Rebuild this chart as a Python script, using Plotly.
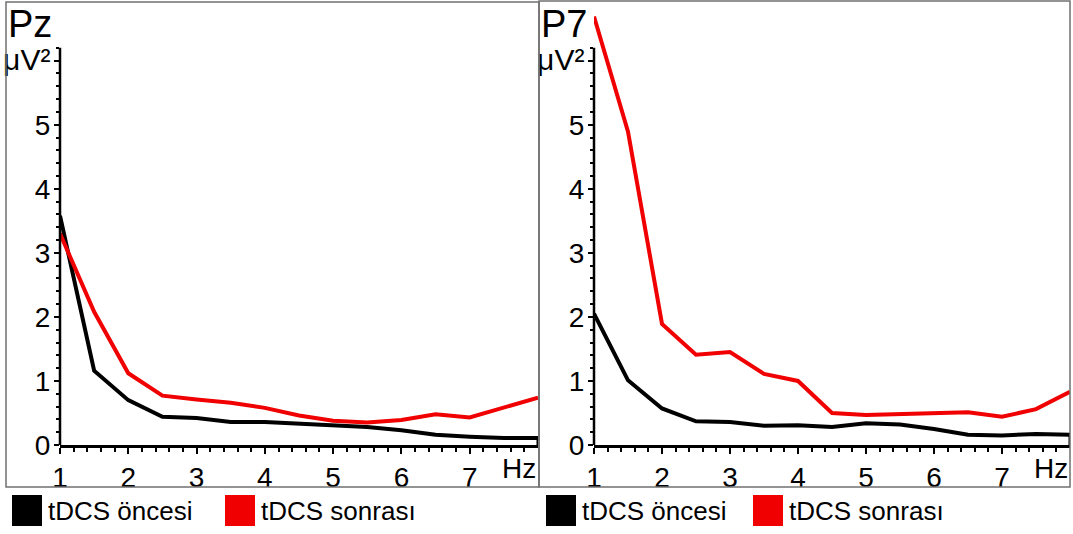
import plotly.graph_objects as go

# ---- data ----
freq = [1, 1.5, 2, 2.5, 3, 3.5, 4, 4.5, 5, 5.5, 6, 6.5, 7, 7.5, 8]
pz_once = [3.58, 1.16, 0.70, 0.44, 0.42, 0.36, 0.36, 0.33, 0.31, 0.28, 0.23, 0.16, 0.13, 0.11, 0.11]
pz_sonra = [3.30, 2.08, 1.12, 0.77, 0.71, 0.66, 0.58, 0.46, 0.38, 0.35, 0.39, 0.48, 0.43, 0.58, 0.74]
p7_once = [2.05, 1.01, 0.57, 0.37, 0.36, 0.30, 0.31, 0.28, 0.34, 0.32, 0.25, 0.16, 0.15, 0.17, 0.16]
p7_sonra = [6.69, 4.89, 1.89, 1.41, 1.45, 1.11, 1.00, 0.50, 0.47, 0.48, 0.49, 0.51, 0.44, 0.56, 0.83]
panels = ["Pz", "P7"]
series_names = ["tDCS öncesi", "tDCS sonrası"]
x_ticks = [1, 2, 3, 4, 5, 6, 7]
y_ticks = [0, 1, 2, 3, 4, 5, 6]
y_ticktext = ["0", "1", "2", "3", "4", "5", "<span style='font-size:30px'>μV²</span>"]
x_unit = "Hz"

BLACK = "#000000"
RED = "#f00000"
FONT = "Liberation Sans, Arial, sans-serif"
W, H = 1073, 534
Y_RANGE = [0, 6.9]
Y_AXIS_TOP = 6.2
X_RANGE = [1, 8]

ydom = [(534 - 445) / H, (534 - 3) / H]
xdoms = [[60 / W, 538 / W], [594 / W, 1070 / W]]

fig = go.Figure()
data_sets = [(pz_once, pz_sonra), (p7_once, p7_sonra)]
for i, (once, sonra) in enumerate(data_sets):
    xa = "x" if i == 0 else "x2"
    ya = "y" if i == 0 else "y2"
    fig.add_trace(go.Scatter(x=freq, y=once, mode="lines", name=series_names[0],
                             line=dict(color=BLACK, width=4), xaxis=xa, yaxis=ya,
                             showlegend=False))
    fig.add_trace(go.Scatter(x=freq, y=sonra, mode="lines", name=series_names[1],
                             line=dict(color=RED, width=4), xaxis=xa, yaxis=ya,
                             showlegend=False))

minor_x = [round(1 + 0.2 * k, 2) for k in range(1, 36) if abs((1 + 0.2 * k) - round(1 + 0.2 * k)) > 1e-6]
minor_y = [round(0.2 * k, 2) for k in range(1, 32) if abs(0.2 * k - round(0.2 * k)) > 1e-6]

shapes = []
annotations = []
for i in range(2):
    sfx = "" if i == 0 else "2"
    xd = xdoms[i]
    fig.update_layout(**{
        "xaxis" + sfx: dict(domain=xd, range=X_RANGE, anchor="y" + sfx, automargin=False,
                            showline=True, linecolor=BLACK, linewidth=2.5,
                            ticks="outside", ticklen=6, tickwidth=2, tickcolor=BLACK,
                            tickvals=x_ticks, ticktext=[str(v) for v in x_ticks],
                            tickfont=dict(size=28, color=BLACK, family=FONT),
                            minor=dict(tickvals=minor_x, ticks="outside", ticklen=4,
                                       tickwidth=1.5, tickcolor=BLACK),
                            showgrid=False, zeroline=False, fixedrange=True),
        "yaxis" + sfx: dict(domain=ydom, range=Y_RANGE, anchor="x" + sfx, automargin=False,
                            showline=False,
                            ticks="outside", ticklen=5, tickwidth=2, tickcolor=BLACK,
                            tickvals=y_ticks, ticktext=y_ticktext, ticklabelstandoff=-2,
                            tickfont=dict(size=28, color=BLACK, family=FONT),
                            minor=dict(tickvals=minor_y, ticks="outside", ticklen=3,
                                       tickwidth=1.5, tickcolor=BLACK),
                            showgrid=False, zeroline=False, fixedrange=True),
    })
    # y-axis line (ends at 6.2 like the original)
    y_top_paper = ydom[0] + (Y_AXIS_TOP - Y_RANGE[0]) / (Y_RANGE[1] - Y_RANGE[0]) * (ydom[1] - ydom[0])
    shapes.append(dict(type="line", xref="paper", yref="paper", x0=xd[0], x1=xd[0],
                       y0=ydom[0], y1=y_top_paper, line=dict(color=BLACK, width=2.5)))
    # closing segment at end of black curve
    once = data_sets[i][0]
    shapes.append(dict(type="line", xref="x" + sfx, yref="y" + sfx, x0=freq[-1], x1=freq[-1],
                       y0=0, y1=once[-1], line=dict(color=BLACK, width=3)))
    # panel title
    annotations.append(dict(text=panels[i], xref="paper", yref="paper",
                            x=(6 if i == 0 else 539) / W, y=(534 - 1) / H,
                            xanchor="left", yanchor="top", showarrow=False,
                            font=dict(size=38, color=BLACK, family=FONT)))
    # Hz unit label
    annotations.append(dict(text=x_unit, xref="x" + sfx, yref="paper", x=X_RANGE[1],
                            y=(534 - 468) / H, xanchor="right", yanchor="middle",
                            showarrow=False, font=dict(size=28, color=BLACK, family=FONT)))

# frames
shapes.append(dict(type="rect", xref="paper", yref="paper", x0=6 / W, x1=539 / W,
                   y0=(534 - 487) / H, y1=(534 - 2) / H, line=dict(color="#707070", width=1.5)))
shapes.append(dict(type="rect", xref="paper", yref="paper", x0=539 / W, x1=1070 / W,
                   y0=(534 - 487) / H, y1=(534 - 1) / H, line=dict(color="#707070", width=1.5)))

# legends (one per panel)
leg_x = [[12, 225], [546, 753]]
colors = [BLACK, RED]
for i in range(2):
    for j in range(2):
        x0 = leg_x[i][j]
        shapes.append(dict(type="rect", xref="paper", yref="paper", x0=x0 / W, x1=(x0 + 30) / W,
                           y0=(534 - 526) / H, y1=(534 - 495) / H,
                           fillcolor=colors[j], line=dict(width=0)))
        annotations.append(dict(text=series_names[j], xref="paper", yref="paper",
                                x=(x0 + 34) / W, y=(534 - 511) / H, xanchor="left",
                                yanchor="middle", showarrow=False,
                                font=dict(size=26, color=BLACK, family=FONT)))

fig.update_layout(width=W, height=H, margin=dict(l=0, r=0, t=0, b=0, pad=0),
                  paper_bgcolor="white", plot_bgcolor="white",
                  shapes=shapes, annotations=annotations, showlegend=False,
                  font=dict(family=FONT, color=BLACK))

fig.write_html("out.html", config={"displayModeBar": False},
               post_script="document.body.style.margin='0';document.body.style.overflow='hidden';")
